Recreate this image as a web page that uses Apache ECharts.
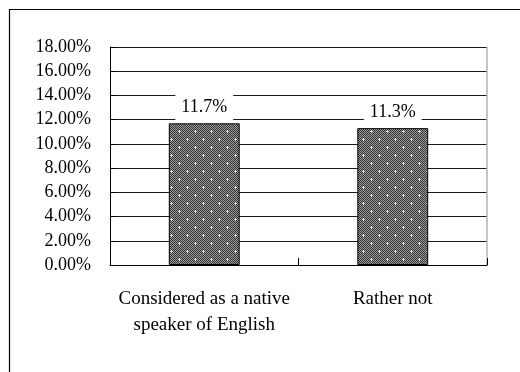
<!DOCTYPE html>
<html>
<head>
<meta charset="utf-8">
<script src="https://cdn.jsdelivr.net/npm/echarts@6/dist/echarts.min.js"></script>
<style>
  html, body { margin: 0; padding: 0; background: #fff; }
  #chart { width: 520px; height: 372px; }
</style>
</head>
<body>
<div id="chart"></div>
<script>
// Share of respondents by perceived speaker status (percent)
var categories = ['Considered as a native\nspeaker of English', 'Rather not'];
var shares = [11.7, 11.3];

// Axis range in percent
var axisMin = 0;
var axisMax = 18;
var axisStep = 2;

// Dotted grey texture used as the bar fill
function makeDotTexture() {
  var size = 16;
  var c = document.createElement('canvas');
  c.width = size; c.height = size;
  var ctx = c.getContext('2d');
  for (var y = 0; y < size; y++) {
    for (var x = 0; x < size; x++) {
      ctx.fillStyle = ((x + y) % 2 === 0) ? '#333333' : '#9c9c9c';
      ctx.fillRect(x, y, 1, 1);
    }
  }
  function dot(cx, cy) {
    ctx.fillStyle = '#d8d8d8';
    ctx.fillRect(cx - 1, cy, 3, 1);
    ctx.fillRect(cx, cy - 1, 1, 3);
    ctx.fillStyle = '#ffffff';
    ctx.fillRect(cx, cy, 1, 1);
  }
  dot(3, 3);
  dot(11, 11);
  return c;
}

var serif = '"Liberation Serif", "Times New Roman", serif';
var chart = echarts.init(document.getElementById('chart'), null, { renderer: 'canvas' });

chart.setOption({
  animation: false,
  backgroundColor: '#ffffff',
  textStyle: { fontFamily: serif },
  graphic: [{
    type: 'rect',
    shape: { x: 9.5, y: 9.5, width: 600, height: 500 },
    style: { fill: 'none', stroke: '#000', lineWidth: 1.2 },
    silent: true
  }],
  grid: { left: 110, right: 33, top: 47, bottom: 107 },
  xAxis: {
    type: 'category',
    data: categories,
    axisLine: { lineStyle: { color: '#000', width: 1 } },
    axisTick: { show: true, inside: true, length: 7, alignWithLabel: false, lineStyle: { color: '#000' } },
    axisLabel: {
      color: '#000', fontFamily: serif, fontSize: 19, lineHeight: 26,
      margin: 21, interval: 0
    }
  },
  yAxis: [{
    type: 'value',
    min: axisMin, max: axisMax, interval: axisStep,
    axisLine: { show: true, lineStyle: { color: '#000', width: 1 } },
    axisTick: { show: true, inside: true, length: 7, lineStyle: { color: '#000' } },
    splitLine: { show: true, lineStyle: { color: '#1a1a1a', width: 1 } },
    axisLabel: {
      color: '#000', fontFamily: serif, fontSize: 18, margin: 19,
      formatter: function (v) { return v.toFixed(2) + '%'; }
    }
  }, {
    type: 'value',
    position: 'right',
    min: axisMin, max: axisMax, interval: axisStep,
    axisLine: { show: true, lineStyle: { color: '#b4b4b4', width: 1.5 } },
    axisTick: { show: false },
    axisLabel: { show: false },
    splitLine: { show: false }
  }],
  series: [{
    type: 'bar',
    data: shares,
    barWidth: '37.6%',
    itemStyle: {
      color: { image: makeDotTexture(), repeat: 'repeat' },
      borderColor: '#000',
      borderWidth: 1
    },
    label: {
      show: true,
      position: 'top',
      distance: 3,
      color: '#000',
      fontFamily: serif,
      fontSize: 18,
      backgroundColor: '#ffffff',
      padding: [5, 6, 4, 6],
      formatter: function (p) { return p.value.toFixed(1) + '%'; }
    }
  }]
});
</script>
</body>
</html>
